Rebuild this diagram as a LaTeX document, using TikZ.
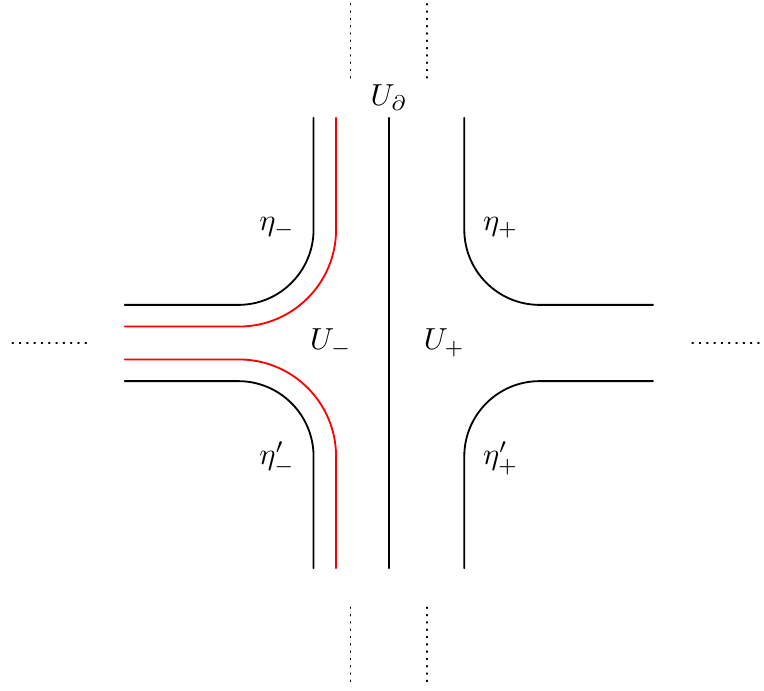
\documentclass[tikz,border=0pt]{standalone}
\usepackage{amsmath,amssymb}
\usepackage{tikz}
\usetikzlibrary{calc,positioning}
\definecolor{pathred}{RGB}{255,0,0}

\begin{document}
\begin{tikzpicture}[line cap=round,
  wall/.style={semithick},
  shifted/.style={semithick,pathred},
  farside/.style={dotted,thin}]
 \useasboundingbox (-4.49,-4.01) rectangle (4.33,3.96);
 % boundary curves of the region
 \draw[wall] (-0.87,2.6)--(-0.87,1.31)
  arc[start angle=0,end angle=-90,radius=0.87]--(-3.05,0.44);
 \draw[wall] (-0.87,-2.6)--(-0.87,-1.31)
  arc[start angle=0,end angle=90,radius=0.87]--(-3.05,-0.44);
 \draw[wall] (0.87,2.6)--(0.87,1.31)
  arc[start angle=180,end angle=270,radius=0.87]--(3.05,0.44);
 \draw[wall] (0.87,-2.6)--(0.87,-1.31)
  arc[start angle=180,end angle=90,radius=0.87]--(3.05,-0.44);
 \draw[wall] (0,2.6)--(0,-2.6);
 % pushed-in copy
 \draw[shifted] (-0.61,2.6)--(-0.61,1.31)
  arc[start angle=0,end angle=-90,radius=1.12]--(-3.05,0.19);
 \draw[shifted] (-0.61,-2.6)--(-0.61,-1.31)
  arc[start angle=0,end angle=90,radius=1.12]--(-3.05,-0.19);
 % continuations
 \draw[farside] (-0.44,3.06)--(-0.44,3.96);
 \draw[farside] (0.44,3.06)--(0.44,3.96);
 \draw[farside] (-0.44,-3.05)--(-0.44,-3.95);
 \draw[farside] (0.44,-3.05)--(0.44,-3.95);
 \draw[farside] (-4.35,0)--(-3.48,0);
 \draw[farside] (3.50,0)--(4.31,0);
 % labels
 \node (Ub) at (0,2.83) {$U_\partial$};
 \node (etam) at (-1.29,1.33) {$\eta_-$};
 \node (etap) at (1.29,1.33) {$\eta_+$};
 \node (Um) at (-0.67,0) {$U_-$};
 \node (Up) at (0.64,0) {$U_+$};
 \node (etamp) at (-1.29,-1.33) {$\eta'_-$};
 \node (etapp) at (1.29,-1.33) {$\eta'_+$};
\end{tikzpicture}
\end{document}
